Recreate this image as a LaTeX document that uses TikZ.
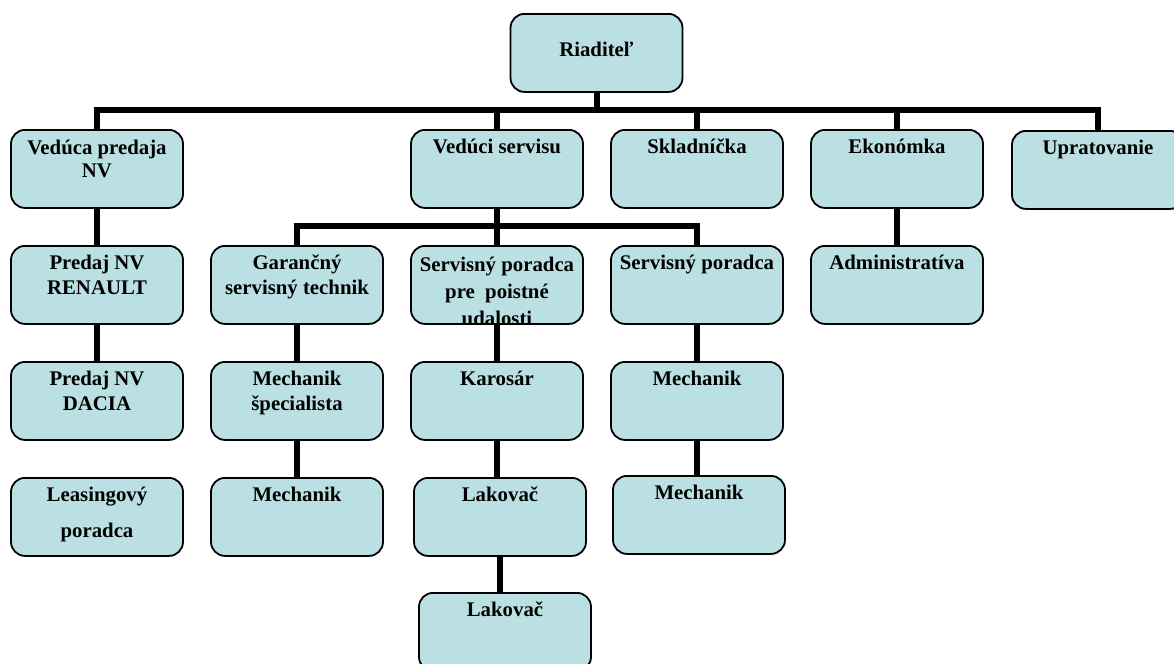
\documentclass[tikz,border=0pt]{standalone}
\usepackage{fontspec}
\setmainfont{Liberation Serif}
\definecolor{postfill}{RGB}{186,224,227}

\begin{document}
\begin{tikzpicture}[x=0.5pt,y=-0.5pt,
   post/.style={draw,line width=0.9pt,fill=postfill,rounded corners=7pt,
     anchor=north,inner sep=0pt,minimum width=86pt,
     text height=12pt,text depth=27pt,align=center,
     font=\fontsize{10.4}{12.5}\selectfont\bfseries},
   twolines/.style={text height=24.5pt,text depth=14.5pt},
   link/.style={line width=3pt}]
\useasboundingbox (0,0) rectangle (1174,664);
\node[post,text height=21.5pt,text depth=17.5pt] (riaditel) at (596.5,13) {Riaditeľ};
% first level
\node[post,twolines,text height=24pt,text depth=15pt,font=\fontsize{10.4}{11.5}\selectfont\bfseries]
   (veduca) at (97,129) {Vedúca predaja\\NV};
\node[post] (servis) at (497,129) {Vedúci servisu};
\node[post] (sklad) at (697,129) {Skladníčka};
\node[post] (ekonom) at (897,129) {Ekonómka};
\node[post] (uprat) at (1098,130) {Upratovanie};
% second level
\node[post,twolines] (renault) at (97,245) {Predaj NV\\RENAULT};
\node[post,twolines] (garancny) at (297,245) {Garančný\\servisný technik};
\node[post,path picture={\node[draw=none,fill=none,inner sep=0pt,anchor=north,
     text height=39.5pt,text depth=-0.5pt,align=center,
     font=\fontsize{10.4}{13.5}\selectfont\bfseries]
     at (path picture bounding box.north) {Servisný poradca\\pre~ poistné\\udalosti};}]
   (poistne) at (497,245) {};
\node[post] (sporadca) at (697,245) {Servisný poradca};
\node[post] (admin) at (897,245) {Administratíva};
% third level
\node[post,twolines] (dacia) at (97,361) {Predaj NV\\DACIA};
\node[post,twolines] (specialista) at (297,361) {Mechanik\\špecialista};
\node[post] (karosar) at (497,361) {Karosár};
\node[post] (mechanikb) at (697,361) {Mechanik};
% fourth level
\node[post,text height=30pt,text depth=9pt] (leasing) at (97,477) {Leasingový\\[5.5pt]poradca};
\node[post] (mechanika) at (297,477) {Mechanik};
\node[post] (lakovaca) at (500,477) {Lakovač};
\node[post] (mechanikc) at (699,475) {Mechanik};
\node[post] (lakovacb) at (505,592) {Lakovač};
% buses
\coordinate (busa) at (596.5,110);
\coordinate (busb) at (497,226);
\draw[link] (riaditel) -- (busa);
\draw[link] (veduca.north) |- (busa) -| (uprat.north);
\foreach \n in {servis,sklad,ekonom}
  \draw[link] (\n.north) -- (\n.north |- busa);
\draw[link] (servis) -- (busb);
\draw[link] (garancny.north) |- (busb) -| (sporadca.north);
\draw[link] (poistne.north) -- (busb);
% straight links
\draw[link] (veduca) -- (renault);
\draw[link] (renault) -- (dacia);
\draw[link] (ekonom) -- (admin);
\draw[link] (garancny) -- (specialista);
\draw[link] (specialista) -- (mechanika);
\draw[link] (poistne) -- (karosar);
\draw[link] (sporadca) -- (mechanikb);
\draw[link] (karosar.south) -- (karosar.south |- lakovaca.north);
\draw[link] (lakovaca.south) -- (lakovaca.south |- lakovacb.north);
\draw[link] (mechanikb.south) -- (mechanikb.south |- mechanikc.north);
\end{tikzpicture}
\end{document}
